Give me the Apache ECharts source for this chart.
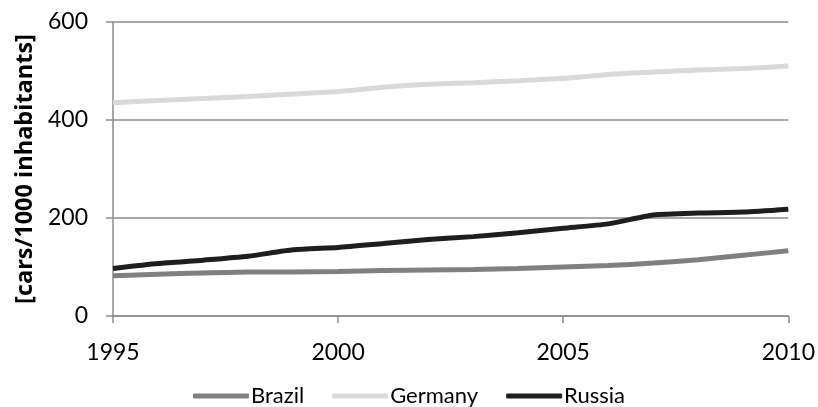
<!DOCTYPE html>
<html>
<head>
<meta charset="utf-8">
<script src="https://cdn.jsdelivr.net/npm/echarts@6/dist/echarts.min.js"></script>
<style>
  html, body { margin: 0; padding: 0; background: #fff; }
  #chart { width: 818px; height: 407px; }
</style>
</head>
<body>
<div id="chart"></div>
<script>
// Passenger cars per 1000 inhabitants, 1995–2010
const years = [1995, 1996, 1997, 1998, 1999, 2000, 2001, 2002, 2003, 2004, 2005, 2006, 2007, 2008, 2009, 2010];
const brazil = [82, 85, 88, 90, 90, 91, 93, 94, 95, 97, 100, 103, 108, 115, 124, 133];
const germany = [435, 440, 444, 448, 453, 458, 467, 473, 476, 480, 485, 493, 498, 502, 505, 510];
const russia = [97, 107, 114, 122, 135, 140, 148, 156, 162, 170, 179, 188, 206, 210, 212, 218];
const seriesNames = ['Brazil', 'Germany', 'Russia'];
const seriesColors = ['#808080', '#d9d9d9', '#1e1e1e'];
const yTitle = '[cars/1000 inhabitants]';

const FONT = 'Lato';
const TITLE_FONT = '"Open Sans", "Noto Sans", sans-serif';
const toPairs = vals => years.map((y, i) => [y, vals[i]]);
const allSeries = [brazil, germany, russia];

const chart = echarts.init(document.getElementById('chart'), null, { renderer: 'canvas' });
chart.setOption({
  animation: false,
  backgroundColor: '#ffffff',
  textStyle: { fontFamily: FONT },
  grid: { left: 113, right: 29, top: 22, bottom: 91, containLabel: false },
  legend: {
    bottom: -5,
    left: 'center',
    itemWidth: 56,
    itemHeight: 5,
    itemGap: 28,
    icon: 'roundRect',
    textStyle: { fontFamily: FONT, fontSize: 22, color: '#000', padding: [0, 0, 0, -3] },
    data: seriesNames
  },
  xAxis: {
    type: 'value',
    min: 1995,
    max: 2010,
    interval: 5,
    axisLine: { lineStyle: { color: '#8c8c8c', width: 1.5 } },
    axisTick: { show: true, length: 7, lineStyle: { color: '#8c8c8c', width: 1.5 } },
    axisLabel: { fontFamily: FONT, fontSize: 23, color: '#000', margin: 25, formatter: v => String(v) },
    splitLine: { show: false }
  },
  yAxis: {
    type: 'value',
    min: 0,
    max: 600,
    interval: 200,
    name: yTitle,
    nameLocation: 'middle',
    nameGap: 73,
    nameTextStyle: { fontFamily: TITLE_FONT, fontSize: 23.5, fontWeight: 700, color: '#000' },
    axisLine: { show: true, lineStyle: { color: '#8c8c8c', width: 1.5 } },
    axisTick: { show: true, length: 7, lineStyle: { color: '#8c8c8c', width: 1.5 } },
    axisLabel: { fontFamily: FONT, fontSize: 23, color: '#000', margin: 25, formatter: v => String(v) },
    splitLine: { show: true, lineStyle: { color: '#8c8c8c', width: 1.5 } }
  },
  series: allSeries.map((vals, i) => ({
    name: seriesNames[i],
    type: 'line',
    data: toPairs(vals),
    showSymbol: false,
    symbol: 'none',
    smooth: 0.2,
    lineStyle: { color: seriesColors[i], width: 5 },
    itemStyle: { color: seriesColors[i] }
  }))
});
</script>
</body>
</html>
